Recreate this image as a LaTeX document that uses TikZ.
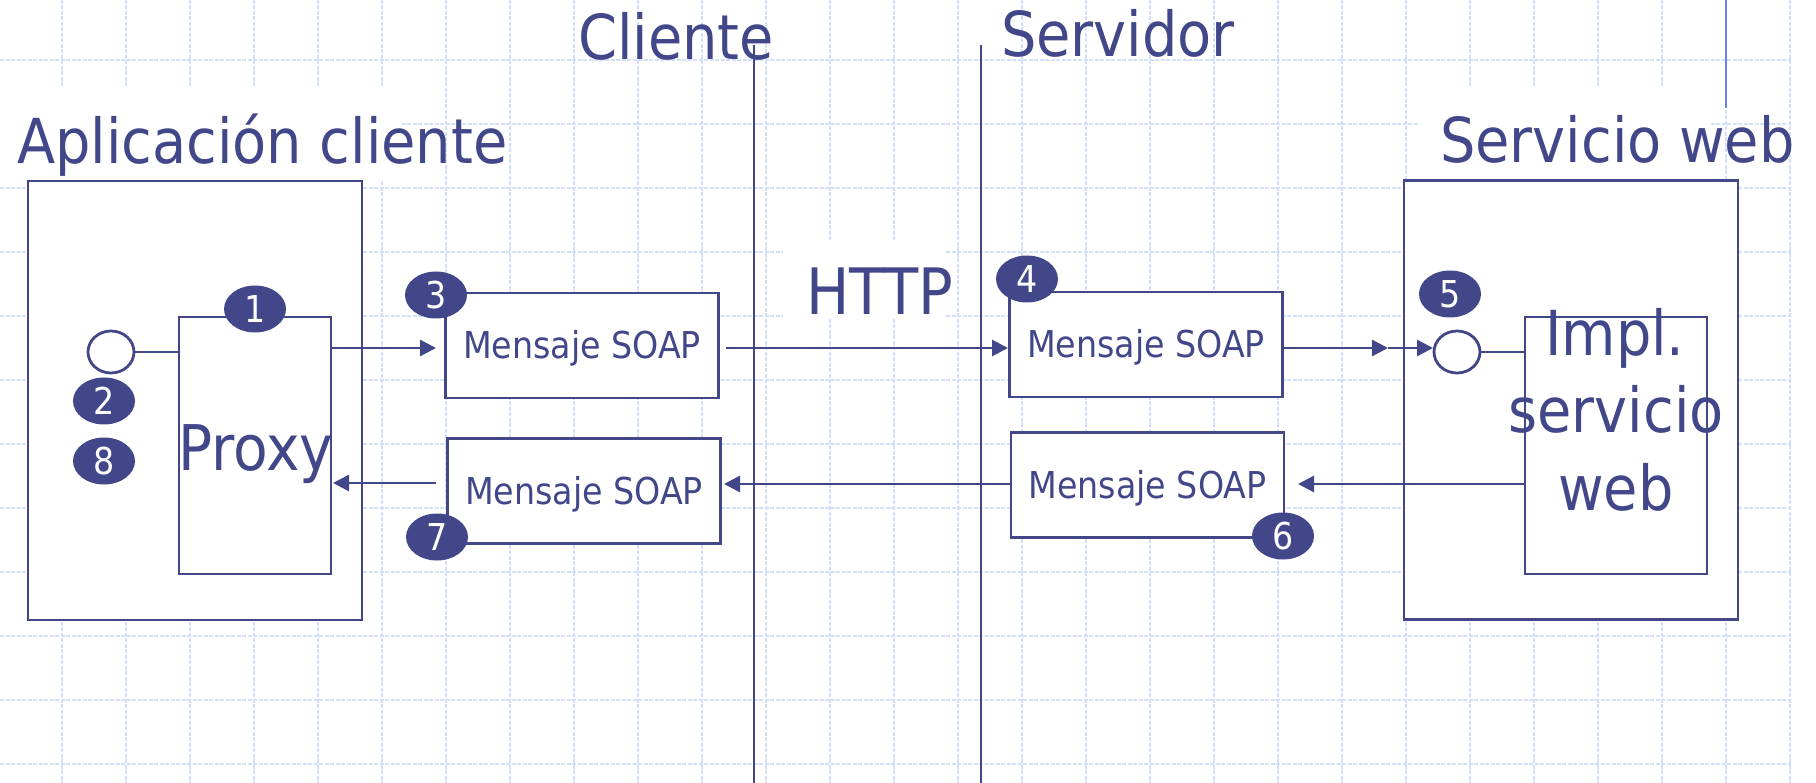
\documentclass[tikz,border=0pt]{standalone}
\usepackage{fontspec}
\setmainfont{DejaVu Sans Condensed}
\usetikzlibrary{arrows.meta,shapes.geometric}
\definecolor{ink}{RGB}{66,71,138}
\definecolor{gridblue}{RGB}{212,223,251}
\definecolor{accent}{RGB}{104,130,242}
\begin{document}
\begin{tikzpicture}[x=1pt,y=-1pt,
  gridline/.style={draw=gridblue, line width=2.6pt, dash pattern=on 4pt off 1.5pt},
  divider/.style={draw=ink, line width=2.8pt},
  box/.style={draw=ink, line width=2.8pt, fill=white, inner sep=0pt, rectangle},
  msg/.style={box, minimum width=273pt, minimum height=105pt,
    font=\fontsize{37}{44}\selectfont, text=ink, text height=27pt, text depth=0pt},
  title/.style={text=ink, font=\fontsize{62}{70}\selectfont, inner sep=0pt, anchor=base west},
  biglabel/.style={text=ink, font=\fontsize{63}{70}\selectfont, inner sep=0pt, anchor=base},
  badge/.style={ellipse, fill=ink, minimum width=62pt, minimum height=47pt, inner sep=0pt,
    text=white, font=\fontsize{37}{40}\selectfont, text height=27pt, text depth=0pt},
  port/.style={ellipse, draw=ink, line width=2.8pt, fill=white,
    minimum width=46pt, minimum height=42pt, inner sep=0pt},
  link/.style={draw=ink, line width=2.8pt},
  arr/.style={link, -{Triangle[length=16pt,width=16pt]}}
]
\useasboundingbox (0,0) rectangle (1816,783);
\fill[white] (0,0) rectangle (1816,783);

% background grid
\begin{scope}
  \clip (0,0) rectangle (1791,783);
  \foreach \x in {-2,62,...,1790} \draw[gridline] (\x,0) -- (\x,783);
  \foreach \y in {-4,60,...,764} \draw[gridline] (0,\y) -- (1791,\y);
\end{scope}

% white backing behind the headings
\fill[white] (0,88) rectangle (400,181);
\fill[white] (1418,88) rectangle (1710,181);
\fill[white] (783,240) rectangle (945,318);

% accent stroke at the top right
\coordinate (acc1) at (1726,0);
\coordinate (acc2) at (1726,108);
\draw[draw=accent, line width=2.2pt] (acc1) -- (acc2);

% client / server dividers
\coordinate (cliTop) at (754,45);
\coordinate (cliBot) at (754,783);
\coordinate (srvTop) at (981,45);
\coordinate (srvBot) at (981,783);
\draw[divider] (cliTop) -- (cliBot);
\draw[divider] (srvTop) -- (srvBot);

% headings
\node[title] (hCli) at (578,60) {Cliente};
\node[title] (hSrv) at (1001,57) {Servidor};
\node[title] (hApp) at (17,164) {Aplicación cliente};
\begin{scope}
  \clip (0,0) rectangle (1791,783);
  \node[title] (hWeb) at (1440,163) {Servicio web};
\end{scope}
\node[title, font=\fontsize{64}{70}\selectfont] (hHttp) at (806,315) {HTTP};

% client application
\node[box, minimum width=334pt, minimum height=439pt] (app) at (195,400.5) {};
\node[box, minimum width=152pt, minimum height=257pt] (proxy) at (255,445.5) {};
\node[biglabel] (proxyLbl) at (256,471) {Proxy};
\node[port] (cport) at (111,352) {};

% web service
\node[box, minimum width=334pt, minimum height=439pt] (svc) at (1571,400) {};
\node[box, minimum width=182pt, minimum height=257pt] (impl) at (1616,445.5) {};
\node[biglabel, font=\fontsize{62}{70}\selectfont] (implA) at (1615,356) {Impl.};
\node[biglabel, font=\fontsize{62}{70}\selectfont] (implB) at (1616,433) {servicio};
\node[biglabel, font=\fontsize{62}{70}\selectfont] (implC) at (1616,510) {web};
\node[port] (sport) at (1457,352) {};

% SOAP messages
\node[msg] (m3) at (582,345.5) {Mensaje SOAP};
\node[msg] (m4) at (1146,344.5) {Mensaje SOAP};
\node[msg] (m7) at (584,491) {Mensaje SOAP};
\node[msg] (m6) at (1147.5,485) {Mensaje SOAP};

% request path
\coordinate (t1) at (436,348);
\coordinate (t2) at (1008,348);
\coordinate (t3) at (1388,348);
\coordinate (t4) at (1433,348);
\draw[link] (cport.east) -- (cport.east -| proxy.west);
\draw[arr] (t1 -| proxy.east) -- (t1);
\draw[arr] ([xshift=6pt]t1 -| m3.east) -- (t2);
\draw[arr] (t3 -| m4.east) -- (t3);
\draw[arr] (t3) -- (t4);
\draw[link] (sport.east) -- (sport.east -| impl.west);

% response path
\coordinate (r1) at (1298,484);
\coordinate (r2) at (724,484);
\coordinate (r3) at (333,483);
\draw[arr] (r1 -| impl.west) -- (r1);
\draw[arr] (r2 -| m6.west) -- (r2);
\draw[arr] ([xshift=-10pt]r3 -| m7.west) -- (r3);

% step markers
\node[badge] (b1) at (255,309) {1};
\node[badge] (b2) at (104,401) {2};
\node[badge] (b8) at (104,461) {8};
\node[badge] (b3) at (436,295) {3};
\node[badge] (b4) at (1027,279) {4};
\node[badge] (b5) at (1450,294) {5};
\node[badge] (b6) at (1283,536) {6};
\node[badge] (b7) at (437,537) {7};
\end{tikzpicture}
\end{document}
